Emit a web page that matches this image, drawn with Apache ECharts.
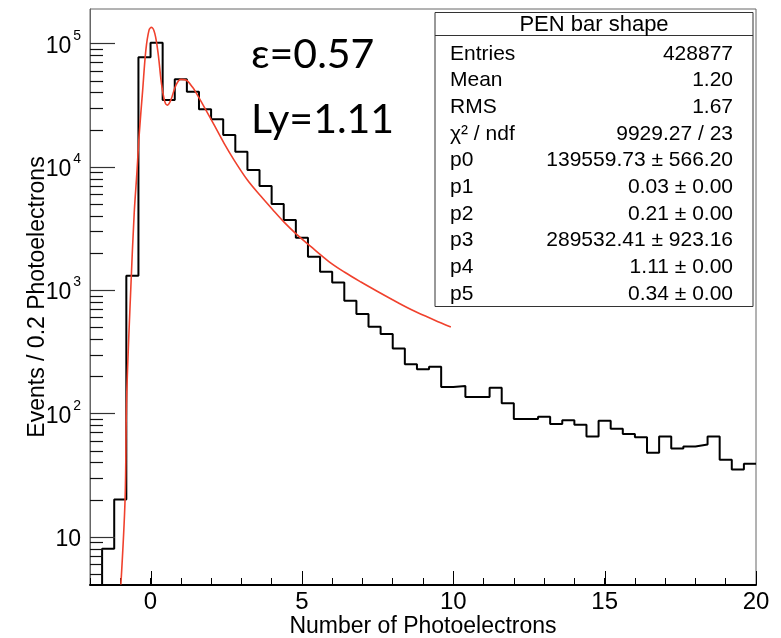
<!DOCTYPE html>
<html><head><meta charset="utf-8">
<script src="https://cdn.jsdelivr.net/npm/echarts@6/dist/echarts.min.js"></script>
<style>html,body{margin:0;padding:0;background:#fff;}#c{width:781px;height:638px;}</style>
</head><body><div id="c"></div>
<script>
// Histogram bin edges (Number of Photoelectrons) and bin contents
const binEdges = [-2.0,-1.6,-1.2,-0.8,-0.4,0.0,0.4,0.8,1.2,1.6,2.0,2.4,2.8,3.2,3.6,4.0,4.4,4.8,5.2,5.6,6.0,6.4,6.8,7.2,7.6,8.0,8.4,8.8,9.2,9.6,10.0,10.4,10.8,11.2,11.6,12.0,12.4,12.8,13.2,13.6,14.0,14.4,14.8,15.2,15.6,16.0,16.4,16.8,17.2,17.6,18.0,18.4,18.8,19.2,19.6,20.0];
const binCounts = [2,8,20,1306,77100,101100,34700,51100,40500,29300,24300,18060,13220,9390,6970,4980,3690,2650,1862,1407,1154,819,638,504,440,336,250,228,239,164,167,136,136,161,121,90,90,94,82,88,81,65,87,75,68,64,48,65,52,54,56,65,42,35,39];
// Fit curve
const fitX = [-0.98,-0.84,-0.79,-0.65,-0.54,-0.45,-0.38,-0.26,-0.155,-0.05,0.03,0.14,0.25,0.36,0.47,0.56,0.67,0.84,1.0,1.17,1.39,1.55,1.77,2.1,2.43,2.76,3.2,3.64,4.03,4.41,4.8,5.3,5.89,6.4,6.95,7.5,8.16,8.71,9.37,9.92];
const fitY = [4.1,20.5,132,1064,4190,9000,17500,41800,88300,128200,134900,120500,83000,47400,33700,31600,34700,45900,51100,50400,44000,38100,30600,21800,15460,11320,7800,5780,4500,3555,2870,2245,1702,1400,1161,973,793,676,572,501];
// Axis ticks
const xMajorTicks = [0,5,10,15,20];
const yMajorTicks = [10,100,1000,10000,100000];
const yMinorTicks = [5,6,7,8,9,20,30,40,50,60,70,80,90,200,300,400,500,600,700,800,900,2000,3000,4000,5000,6000,7000,8000,9000,20000,30000,40000,50000,60000,70000,80000,90000];
// Stats box
const statTitle = 'PEN bar shape';
const statNames = ['Entries','Mean','RMS','χ² / ndf','p0','p1','p2','p3','p4','p5'];
const statValues = ['428877','1.20','1.67','9929.27 / 23','139559.73 ± 566.20','0.03 ± 0.00','0.21 ± 0.00','289532.41 ± 923.16','1.11 ± 0.00','0.34 ± 0.00'];
const annotLines = ['ε=0.57','Ly=1.11'];

const FF = "'Liberation Sans', Arial, sans-serif";
const histData = binEdges.map((e,i) => [e, binCounts[Math.min(i, binCounts.length-1)]]);
const fitData = fitX.map((x,i) => [x, fitY[i]]);
// tick rows: [x, y, kind]  kind 0 = y minor, 1 = y major, 2 = x major
const tickRows = yMinorTicks.map(v => [-2, v, 0])
  .concat(yMajorTicks.map(v => [-2, v, 1]))
  .concat(xMajorTicks.map(v => [v, 10, 2]));

const chart = echarts.init(document.getElementById('c'), null, {renderer:'canvas'});

const gridL = 90, gridT = 9, gridR = 25, gridB = 53;

const graphics = [];
// stats box
const bx = 435, by = 12.5, bw = 318, bh = 294;
graphics.push({type:'rect', z:100, shape:{x:bx, y:by, width:bw, height:bh}, style:{fill:'#fff', stroke:'#333', lineWidth:1}});
graphics.push({type:'line', z:101, shape:{x1:bx, y1:35.5, x2:bx+bw, y2:35.5}, style:{stroke:'#333', lineWidth:1}});
graphics.push({type:'text', z:102, style:{text:statTitle, x:bx+bw/2, y:25, align:'center', verticalAlign:'middle', font:"22px "+FF, fill:'#000'}});
statNames.forEach((n,i) => {
  const yy = 54 + i*26.67;
  graphics.push({type:'text', z:102, style:{text:n, x:450, y:yy, align:'left', verticalAlign:'middle', font:"21px "+FF, fill:'#000'}});
  graphics.push({type:'text', z:102, style:{text:statValues[i], x:733, y:yy, align:'right', verticalAlign:'middle', font:"21px "+FF, fill:'#000'}});
});
annotLines.forEach((t,i) => {
  graphics.push({type:'text', z:102, style:{text:t, x:251, y:55 + i*65, align:'left', verticalAlign:'middle', font:"41px Lato, 'Open Sans', sans-serif", fill:'#000'}});
});

const option = {
  animation: false,
  backgroundColor: '#fff',
  grid: {left:gridL, top:gridT, right:gridR, bottom:gridB, show:true, borderColor:'#666', borderWidth:1, containLabel:false, outerBoundsMode:'none'},
  xAxis: {
    type:'value', min:-2, max:20, interval:1,
    name:'Number of Photoelectrons', nameLocation:'middle', nameGap:30, nameMoveOverlap:false,
    nameTextStyle:{fontFamily:FF, fontSize:23, color:'#000'},
    axisLine:{show:true, onZero:false, lineStyle:{color:'#000', width:2}},
    axisTick:{show:true, inside:true, length:7, lineStyle:{color:'#000', width:1}},
    axisLabel:{show:true, margin:5, fontFamily:FF, fontSize:24, color:'#000',
      formatter: v => (Math.abs(v % 5) < 1e-9 ? String(v) : '')},
    splitLine:{show:false}
  },
  yAxis: {
    type:'log', logBase:10, min:4.06, max:190000,
    name:'Events / 0.2 Photoelectrons', nameLocation:'middle', nameGap:41, nameMoveOverlap:false,
    nameTextStyle:{fontFamily:FF, fontSize:23, color:'#000'},
    axisLine:{show:true, onZero:false, lineStyle:{color:'#666', width:1}},
    axisTick:{show:false},
    axisLabel:{show:true, margin:9, fontFamily:FF, fontSize:23, color:'#000',
      formatter: v => {
        const l = Math.log10(v); const k = Math.round(l);
        if (Math.abs(l-k) > 1e-6) return '';
        if (k === 1) return '{a|10}';
        return '{a|10}{s|' + k + '}';
      },
      rich:{a:{fontFamily:FF, fontSize:23, color:'#000', padding:[6,0,0,0]}, s:{fontFamily:FF, fontSize:14, color:'#000', verticalAlign:'top', padding:[0,0,0,2]}}
    },
    splitLine:{show:false}
  },
  series: [
    {type:'line', name:'hist', data:histData, step:'end', showSymbol:false, symbol:'none',
     lineStyle:{color:'#000', width:2}, clip:true, z:3},
    {type:'line', name:'fit', data:fitData, smooth:0.35, showSymbol:false, symbol:'none',
     lineStyle:{color:'#f0412d', width:1.6}, clip:true, z:4},
    {type:'custom', name:'ticks', data:tickRows, encode:{x:0, y:1}, dimensions:['x','y','kind'], z:6, silent:true, clip:false,
     renderItem:(params, api) => {
       const cs = params.coordSys; const kind = api.value(2);
       const p = api.coord([api.value(0), api.value(1)]);
       if (kind === 2) {
         const xx = Math.round(p[0])+0.5;
         return {type:'line', shape:{x1:xx, y1:cs.y+cs.height, x2:xx, y2:cs.y+cs.height-14}, style:{stroke:'#000', lineWidth:1}};
       }
       const len = kind === 1 ? 25 : 13;
       const yy = Math.round(p[1])+0.5;
       return {type:'line', shape:{x1:cs.x, y1:yy, x2:cs.x+len, y2:yy}, style:{stroke: kind === 1 ? '#333' : '#111', lineWidth:1.2}};
     }}
  ],
  graphic: graphics
};
chart.setOption(option);
</script>
</body></html>
